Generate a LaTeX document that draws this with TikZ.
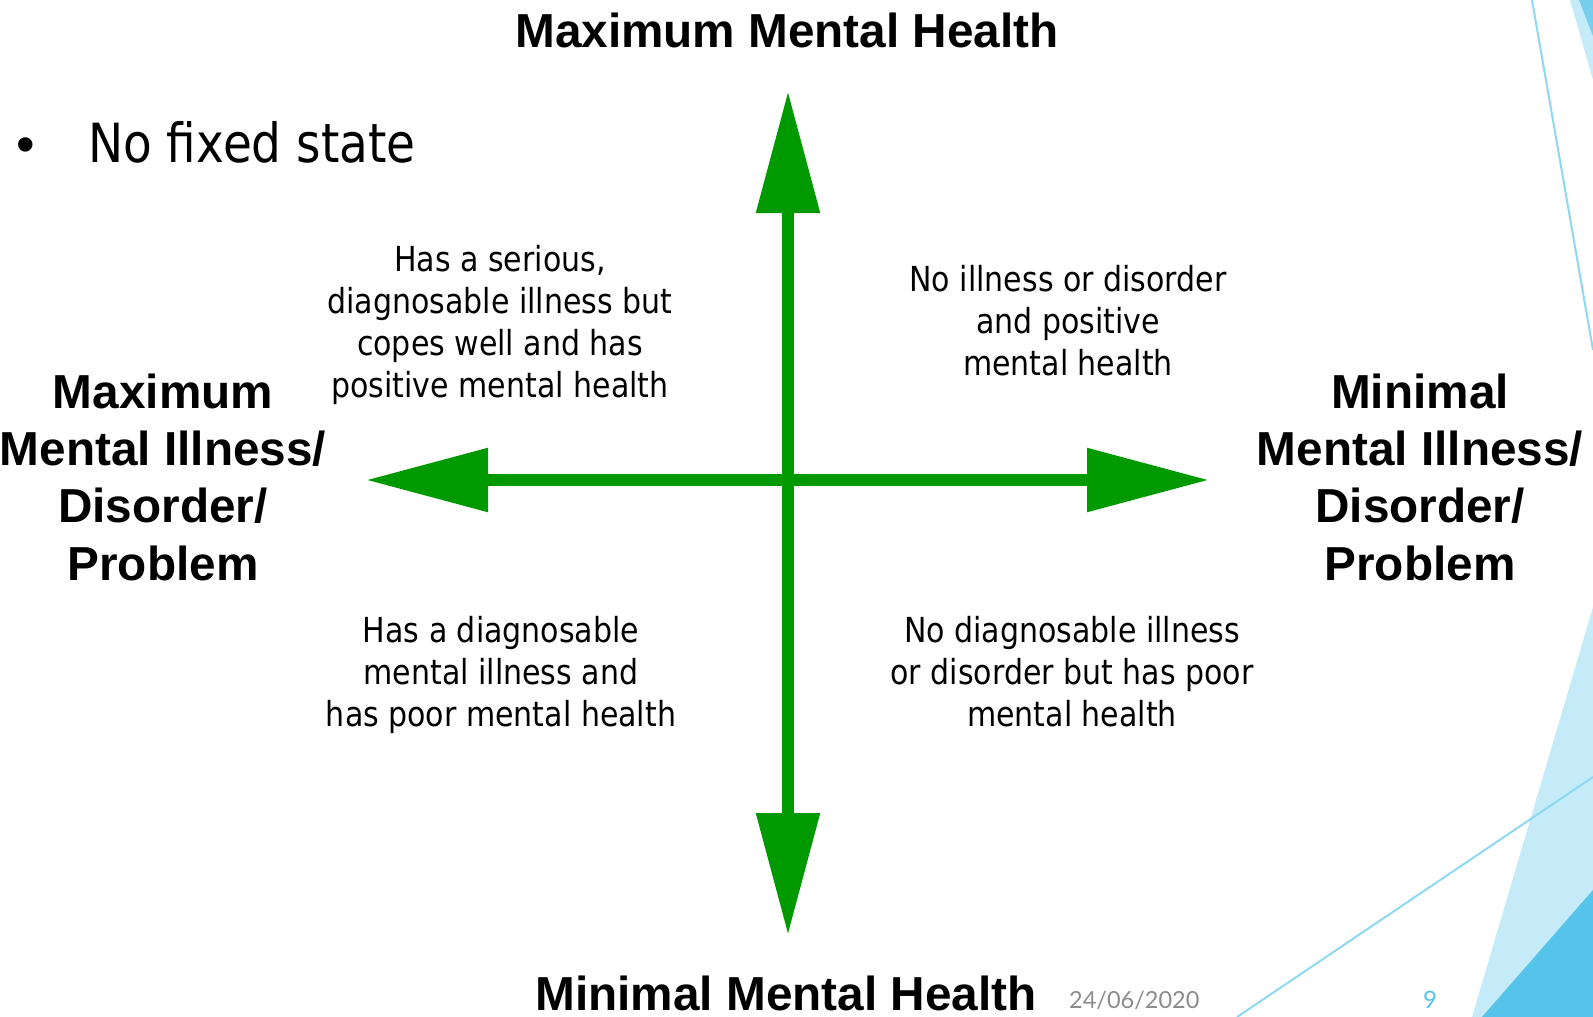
\documentclass[tikz,border=0pt]{standalone}
\usepackage{fontspec}
\usetikzlibrary{arrows.meta}
\newfontfamily\headfont{Liberation Sans}
\newfontfamily\bodyfont[FakeStretch=0.87]{DejaVu Sans}
\newfontfamily\footfont{Lato}
\definecolor{axisgreen}{HTML}{009900}
\definecolor{paleblue}{HTML}{C5EAF8}
\definecolor{deepblue}{HTML}{55C3EA}
\definecolor{lineblue}{HTML}{8ED8F3}
\definecolor{dategray}{HTML}{8C8C8C}

\begin{document}
\begin{tikzpicture}[x=1pt,y=-1pt,
  axis/.style={line width=12pt,draw=axisgreen,
    {Triangle[length=122pt,width=61pt]}-{Triangle[length=122pt,width=61pt]}},
  pole/.style={font=\headfont\bfseries\fontsize{47.7}{57.2}\selectfont,align=center},
  quad/.style={font=\bodyfont\fontsize{34.5}{41.7}\selectfont,align=center}]
\useasboundingbox (0,0) rectangle (1593,1017);

% corner shapes
\fill[paleblue] (1593,607) -- (1472,1017) -- (1593,1017) -- cycle;
\fill[deepblue] (1593,890) -- (1482,1017) -- (1593,1017) -- cycle;
\fill[paleblue] (1570,0) -- (1593,80) -- (1593,0) -- cycle;
\fill[deepblue!80] (1579,0) -- (1593,36) -- (1593,0) -- cycle;
\draw[lineblue,line width=2pt] (1237,1017) -- (1593,777);
\draw[lineblue,line width=2pt] (1532,0) -- (1593,350);

% axes
\coordinate (n) at (788,91);
\coordinate (s) at (788,935);
\coordinate (w) at (366,480);
\coordinate (e) at (1209,480);
\draw[axis] (w) -- (e);
\draw[axis] (n) -- (s);

% labels (base = last line)
\node [pole,anchor=base] (top) at (787,47) {Maximum Mental Health};
\node [pole,anchor=base,inner sep=0] (bottom) at (786,1010) {Minimal Mental Health};
\node [pole,anchor=base,inner sep=0] (left) at (163,580) {Maximum\\Mental Illness/\\Disorder/\\Problem};
\node [pole,anchor=base] (right) at (1420,580) {Minimal\\Mental Illness/\\Disorder/\\Problem};

\node [quad,anchor=base] (tl) at (500,397) {Has a serious,\\diagnosable illness but\\copes well and has\\positive mental health};
\node [quad,anchor=base] (tr) at (1068,375) {No illness or disorder\\and positive\\mental health};
\node [quad,anchor=base] (bl) at (501,726) {Has a diagnosable\\mental illness and\\has poor mental health};
\node [quad,anchor=base] (br) at (1072,726) {No diagnosable illness\\or disorder but has poor\\mental health};

\node [anchor=base,inner sep=0,font=\headfont\fontsize{53}{64}\selectfont] (bullet) at (26,162) {•};
\node [anchor=base west,inner sep=0,font=\bodyfont\fontsize{54}{64}\selectfont] (state) at (88,162) {No fixed state};

\node [anchor=base west,inner sep=0,text=dategray,font=\footfont\fontsize{23.5}{28}\selectfont] (date) at (1069,1008) {24/06/2020};
\node [anchor=base,inner sep=0,text=deepblue,font=\footfont\fontsize{24}{28}\selectfont] (page) at (1430,1008) {9};
\end{tikzpicture}
\end{document}
